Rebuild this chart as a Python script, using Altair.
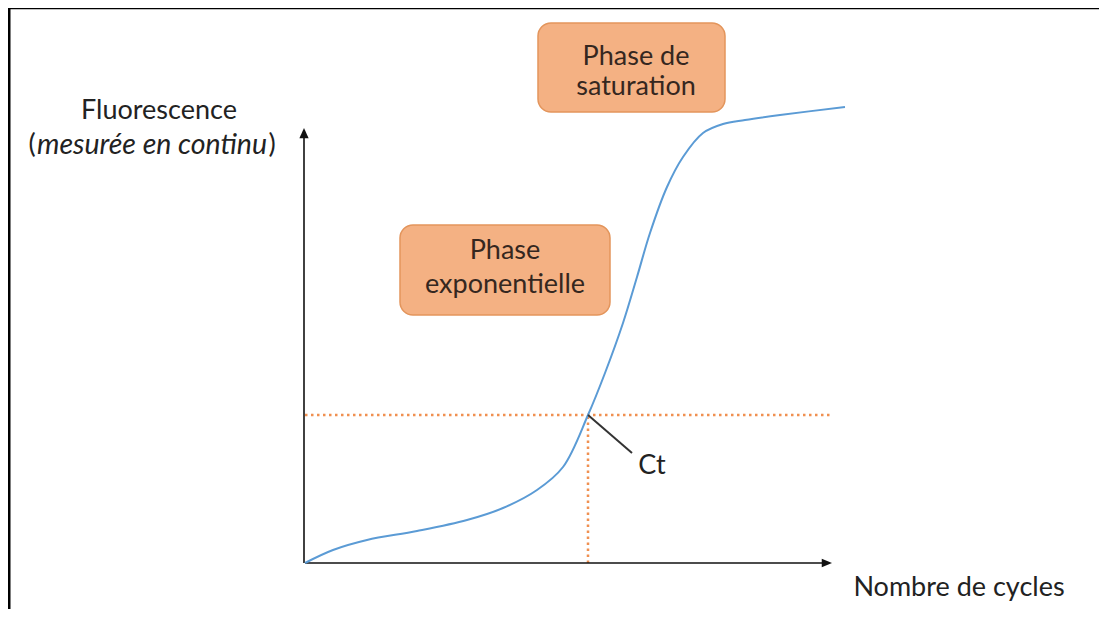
import altair as alt
import pandas as pd

# Sigmoid amplification curve (schematic units: cycles vs fluorescence)
curve_x = [0, 28, 62, 112, 162, 198, 232, 258, 283, 300, 318, 332, 345, 362, 378, 398, 418, 440, 475, 540]
curve_y = [0, 13, 23, 32, 43, 55, 73, 96, 148, 190, 240, 286, 330, 376, 406, 430, 439, 443, 448, 456]

# Ct threshold
ct_x = [283]
ct_y = [148]
threshold_end_x = [526]

# Axes
axis_x_end = [520]
axis_y_end = [426]
arrow_x_tip = [527]
arrow_y_tip = [435]

# Phase boxes
box_labels = ["Phase de saturation", "Phase exponentielle"]
box_x1 = [233, 95]
box_x2 = [420, 305]
box_y1 = [451, 248]
box_y2 = [540, 338]
box_line1 = ["Phase de", "Phase"]
box_line2 = ["saturation", "exponentielle"]
box_cx = [331, 200]
box_ly1 = [506, 312]
box_ly2 = [476, 278]

# Ct label leader
leader_x = [283, 327]
leader_y = [148, 110]

FONT = "Lato"
FS = 27
XS = alt.Scale(domain=[-297, 794], nice=False, zero=False)
YS = alt.Scale(domain=[-46, 555], nice=False, zero=False)

def X(f="x"):
    return alt.X(f"{f}:Q", scale=XS, axis=None)

def Y(f="y"):
    return alt.Y(f"{f}:Q", scale=YS, axis=None)

curve_df = pd.DataFrame({"x": curve_x, "y": curve_y})
curve = alt.Chart(curve_df).mark_line(color="#5B9BD5", strokeWidth=2, interpolate="catmull-rom").encode(x=X(), y=Y())

# dotted threshold lines
hdf = pd.DataFrame({"x": [0], "x2": threshold_end_x, "y": ct_y})
hline = alt.Chart(hdf).mark_rule(color="#ED7D31", strokeWidth=2.5, strokeDash=[2.5, 3.5], opacity=0.85).encode(
    x=X(), x2="x2:Q", y=Y())
vdf = pd.DataFrame({"x": ct_x, "y": [0], "y2": ct_y})
vline = alt.Chart(vdf).mark_rule(color="#ED7D31", strokeWidth=2.5, strokeDash=[2.5, 3.5], opacity=0.85).encode(
    x=X(), y=Y(), y2="y2:Q")

# axes
xa = alt.Chart(pd.DataFrame({"x": [0], "x2": axis_x_end, "y": [0]})).mark_rule(color="#111", strokeWidth=1.6).encode(
    x=X(), x2="x2:Q", y=Y())
ya = alt.Chart(pd.DataFrame({"x": [-1], "y": [0], "y2": axis_y_end})).mark_rule(color="#111", strokeWidth=1.6).encode(
    x=X(), y=Y(), y2="y2:Q")
arrow_up = alt.Chart(pd.DataFrame({"x": [-1], "y": arrow_y_tip})).mark_point(
    shape="M0,0L0.45,1L-0.45,1Z", filled=True, color="#111", opacity=1, size=420).encode(x=X(), y=Y())
arrow_right = alt.Chart(pd.DataFrame({"x": arrow_x_tip, "y": [0]})).mark_point(
    shape="M0,0L-1,-0.42L-1,0.42Z", filled=True, color="#111", opacity=1, size=420).encode(x=X(), y=Y())

# boxes
bdf = pd.DataFrame({"label": box_labels, "x": box_x1, "x2": box_x2, "y": box_y1, "y2": box_y2,
                    "cx": box_cx, "l1": box_line1, "l2": box_line2, "ly1": box_ly1, "ly2": box_ly2})
boxes = alt.Chart(bdf).mark_rect(fill="#F4B183", stroke="#E3955C", strokeWidth=1.5, cornerRadius=13).encode(
    x=X(), x2="x2:Q", y=Y(), y2="y2:Q")
bt1 = alt.Chart(bdf).mark_text(font=FONT, fontSize=FS, color="#35271f", baseline="middle", align="center").encode(
    x=X("cx"), y=Y("ly1"), text="l1:N")
bt2 = alt.Chart(bdf).mark_text(font=FONT, fontSize=FS, color="#35271f", baseline="middle", align="center").encode(
    x=X("cx"), y=Y("ly2"), text="l2:N")

# Ct leader and label
leader = alt.Chart(pd.DataFrame({"x": leader_x, "y": leader_y})).mark_line(color="#333", strokeWidth=2).encode(
    x=X(), y=Y())
ct_label = alt.Chart(pd.DataFrame({"x": [347], "y": [97], "t": ["Ct"]})).mark_text(
    font=FONT, fontSize=FS, color="#222", baseline="middle", align="center").encode(x=X(), y=Y(), text="t:N")

# axis titles
tdf = pd.DataFrame({"x": [-146, 654], "y": [452, -25], "t": ["Fluorescence", "Nombre de cycles"]})
titles = alt.Chart(tdf).mark_text(font=FONT, fontSize=FS, color="#222", baseline="middle", align="center").encode(
    x=X(), y=Y(), text="t:N")
sub_it = alt.Chart(pd.DataFrame({"x": [-153], "y": [418], "t": ["mesurée en continu"]})).mark_text(
    font=FONT, fontSize=28.5, fontStyle="italic", color="#222", baseline="middle", align="center").encode(
    x=X(), y=Y(), text="t:N")
parens = alt.Chart(pd.DataFrame({"x": [-273, -33], "y": [418, 418], "t": ["(", ")"]})).mark_text(
    font=FONT, fontSize=FS, color="#222", baseline="middle", align="center").encode(x=X(), y=Y(), text="t:N")

# frame (left and top edges)
frame_left = alt.Chart(pd.DataFrame({"k": [0]})).mark_rule(color="#000", strokeWidth=3).encode(
    x=alt.value(1), y=alt.value(-2), y2=alt.value(601))
frame_top = alt.Chart(pd.DataFrame({"k": [0]})).mark_rule(color="#000", strokeWidth=2.5).encode(
    x=alt.value(0), x2=alt.value(1091), y=alt.value(0))

chart = alt.layer(
    frame_left, frame_top, hline, vline, xa, ya, arrow_up, arrow_right, curve, leader,
    boxes, bt1, bt2, ct_label, titles, sub_it, parens
).properties(
    width=1091, height=601, padding=0, autosize=alt.AutoSizeParams(type="none")
).configure_view(stroke=None).configure(background="white")

chart.save("out.html", embed_options={"renderer": "svg", "actions": False})
